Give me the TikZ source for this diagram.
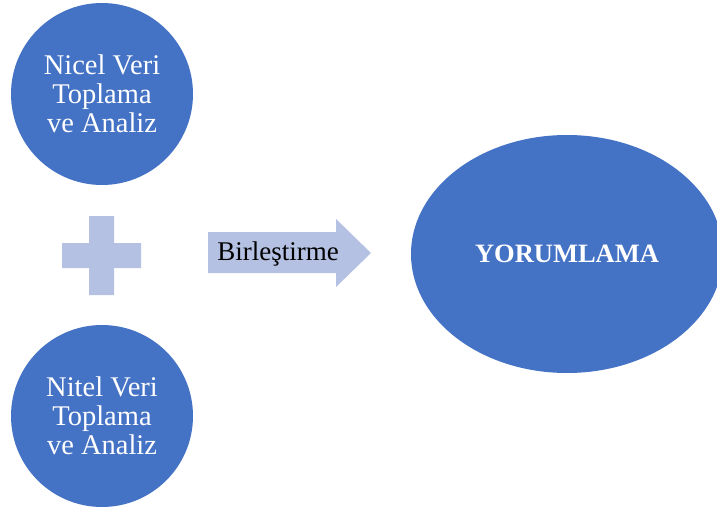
\documentclass[tikz,border=0pt]{standalone}
\usepackage{fontspec}
\setmainfont{Liberation Serif}
\usetikzlibrary{shapes.geometric}
\definecolor{circblue}{RGB}{68,114,196}
\definecolor{lightblue}{RGB}{180,193,226}
\begin{document}
\begin{tikzpicture}[x=1pt,y=-1pt,
  bigcirc/.style={circle,fill=circblue,minimum size=182pt,inner sep=0pt,text=white,align=center,font=\fontsize{28.5}{29}\selectfont},
  shapefill/.style={fill=lightblue,draw=none}]
\useasboundingbox (0,0) rectangle (717,513);
\node[bigcirc] (nicel) at (102,94) {Nicel Veri\\Toplama\\ve Analiz};
\node[bigcirc] (nitel) at (102,416) {Nitel Veri\\Toplama\\ve Analiz};
% plus sign
\fill[shapefill] (89,216) -- (114,216) -- (114,243) -- (141,243) -- (141,268) -- (114,268) -- (114,295) -- (89,295) -- (89,268) -- (62,268) -- (62,243) -- (89,243) -- cycle;
% arrow
\fill[shapefill] (208,232) -- (336,232) -- (336,219) -- (371,253) -- (336,287) -- (336,273) -- (208,273) -- cycle;
\node[font=\fontsize{27}{29}\selectfont,inner sep=0pt] (birl) at (278,254) {Birleştirme};
\node[ellipse,fill=circblue,minimum width=312pt,minimum height=238pt,inner sep=0pt,text=white,font=\fontsize{26.5}{29}\selectfont\bfseries] (yorum) at (567,254) {YORUMLAMA};
\end{tikzpicture}
\end{document}
